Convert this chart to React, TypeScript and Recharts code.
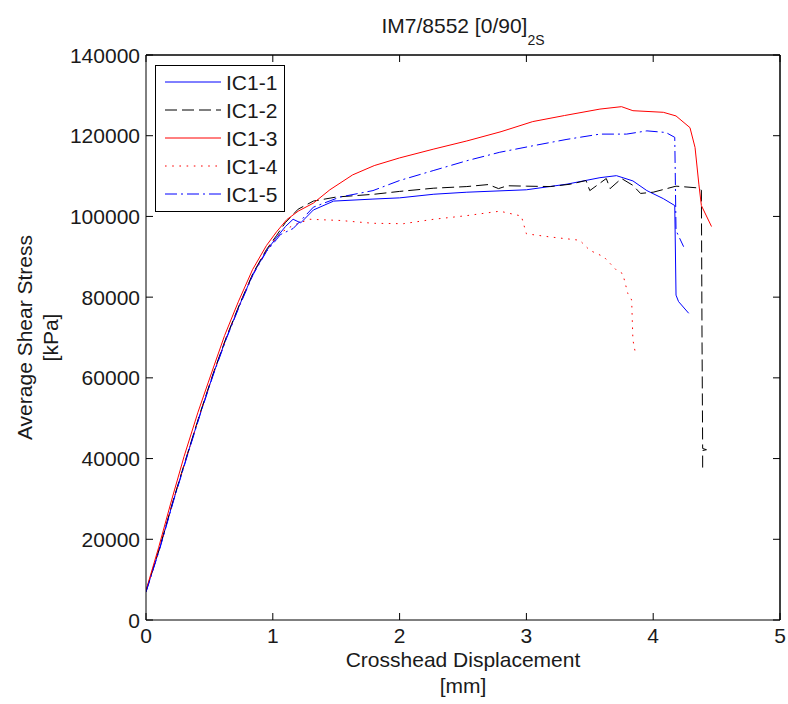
import React from 'react';
import { LineChart, Line, XAxis, YAxis, Legend, Label, ReferenceLine } from 'recharts';

const FONT = '"Liberation Sans", Arial, Helvetica, sans-serif';
const TEXT = '#1a1a1a';

const xTicks = [0, 1, 2, 3, 4, 5];
const yTicks = [0, 20000, 40000, 60000, 80000, 100000, 120000, 140000];

const ic11X = [0, 0.11, 0.215, 0.32, 0.426, 0.53, 0.635, 0.74, 0.845, 0.95, 1.03, 1.1, 1.16, 1.22, 1.32, 1.48, 1.79, 2.0, 2.27, 2.53, 3.0, 3.32, 3.58, 3.71, 3.84, 3.95, 4.08, 4.17, 4.18, 4.2, 4.28];
const ic11Y = [7000, 18000, 29500, 40300, 51000, 60900, 70000, 78200, 85800, 91500, 94800, 97500, 99300, 98400, 101600, 103800, 104300, 104600, 105500, 106000, 106600, 108000, 109600, 110100, 108800, 106400, 104400, 102700, 80500, 78900, 76000];

const ic12X = [0, 0.11, 0.215, 0.32, 0.426, 0.53, 0.635, 0.74, 0.845, 0.95, 1.03, 1.1, 1.2, 1.32, 1.5, 1.8, 2.0, 2.27, 2.53, 2.7, 2.78, 2.85, 3.0, 3.19, 3.35, 3.47, 3.5, 3.63, 3.66, 3.75, 3.84, 3.9, 4.0, 4.18, 4.34, 4.38, 4.385, 4.39, 4.42, 4.39, 4.39];
const ic12Y = [7200, 18200, 29700, 40500, 51200, 61100, 70200, 78400, 86000, 91800, 95300, 98500, 101800, 103800, 104800, 105500, 106200, 107000, 107400, 107900, 106900, 107600, 107500, 107400, 108000, 108900, 106400, 109400, 106900, 109400, 107700, 105700, 106000, 107500, 107100, 106500, 70000, 42500, 42200, 42000, 36800];

const ic13X = [0, 0.1, 0.2, 0.3, 0.41, 0.52, 0.62, 0.73, 0.84, 0.95, 1.03, 1.11, 1.2, 1.32, 1.45, 1.63, 1.8, 2.0, 2.27, 2.53, 2.8, 3.05, 3.3, 3.58, 3.75, 3.84, 4.08, 4.18, 4.29, 4.33, 4.36, 4.38, 4.46];
const ic13Y = [7300, 18000, 29500, 40500, 51500, 61500, 70500, 79000, 86800, 92800, 96200, 99200, 101300, 103300, 106600, 110300, 112600, 114500, 116700, 118700, 121000, 123500, 125000, 126600, 127200, 126200, 125800, 124900, 122000, 117100, 108000, 102700, 97500];

const ic14X = [0, 0.11, 0.215, 0.32, 0.426, 0.53, 0.635, 0.74, 0.845, 0.95, 1.03, 1.08, 1.16, 1.29, 1.53, 1.79, 2.03, 2.27, 2.53, 2.79, 2.96, 3.0, 3.19, 3.42, 3.5, 3.61, 3.71, 3.76, 3.8, 3.83, 3.84, 3.86];
const ic14Y = [7000, 18100, 29600, 40400, 51100, 61000, 70100, 78300, 85900, 91600, 94900, 96300, 97800, 99300, 99000, 98300, 98200, 99300, 100200, 101300, 100100, 95700, 94900, 94100, 91600, 90000, 86700, 85800, 80900, 79300, 69400, 66100];

const ic15X = [0, 0.11, 0.215, 0.32, 0.426, 0.53, 0.635, 0.74, 0.845, 0.95, 1.03, 1.06, 1.16, 1.21, 1.32, 1.53, 1.79, 2.0, 2.27, 2.53, 2.79, 3.05, 3.32, 3.58, 3.79, 3.95, 4.1, 4.17, 4.18, 4.24];
const ic15Y = [6900, 17800, 29300, 40100, 50800, 60700, 69800, 78000, 85600, 91300, 94300, 95500, 97000, 98600, 102300, 104800, 106400, 108900, 111400, 113800, 115900, 117500, 119100, 120400, 120400, 121200, 120800, 119600, 96500, 92500];

const seriesNames = ['IC1-1', 'IC1-2', 'IC1-3', 'IC1-4', 'IC1-5'];
const seriesColors = ['#0000ff', '#000000', '#ff0000', '#ff0000', '#0000ff'];
const seriesDashes = ['', '12 5', '', '1.6 5.6', '12 4 2 4'];

const toPoints = (xs: number[], ys: number[]) => xs.map((x, i) => ({ x, y: ys[i] }));

const seriesData = [
  toPoints(ic11X, ic11Y),
  toPoints(ic12X, ic12Y),
  toPoints(ic13X, ic13Y),
  toPoints(ic14X, ic14Y),
  toPoints(ic15X, ic15Y),
];

const textStyle = { fontFamily: FONT, fontSize: 21, fill: TEXT };
const TICK_LEN = 7;

const BottomTick = (props: any) => {
  const { x, y, payload } = props;
  return (
    <g>
      <line x1={x} x2={x} y1={y} y2={y - TICK_LEN} stroke="#000" strokeWidth={1} />
      <text x={x} y={y + 23} textAnchor="middle" style={textStyle as any}>{String(payload.value)}</text>
    </g>
  );
};

const TopTick = (props: any) => {
  const { x, y } = props;
  return <line x1={x} x2={x} y1={y} y2={y + TICK_LEN} stroke="#000" strokeWidth={1} />;
};

const LeftTick = (props: any) => {
  const { x, y, payload } = props;
  return (
    <g>
      <line x1={x} x2={x + TICK_LEN} y1={y} y2={y} stroke="#000" strokeWidth={1} />
      <text x={x - 6} y={y + 7.5} textAnchor="end" style={textStyle as any}>{String(payload.value)}</text>
    </g>
  );
};

const RightTick = (props: any) => {
  const { x, y } = props;
  return <line x1={x} x2={x - TICK_LEN} y1={y} y2={y} stroke="#000" strokeWidth={1} />;
};

const LegendBox = () => (
  <svg width={130} height={147} style={{ display: 'block' }}>
    <rect x={0.5} y={0.5} width={129} height={146} fill="#fff" stroke="#000" strokeWidth={1} />
    {seriesNames.map((n, i) => {
      const cy = 17 + 28 * i;
      return (
        <g key={n}>
          <line x1={10} x2={66} y1={cy} y2={cy} stroke={seriesColors[i]} strokeWidth={1} strokeDasharray={seriesDashes[i] || undefined} />
          <text x={71} y={cy + 7.5} style={textStyle as any}>{n}</text>
        </g>
      );
    })}
  </svg>
);

const XLabel = (props: any) => {
  const vb = props.viewBox;
  const cx = vb.x + vb.width / 2;
  return (
    <g>
      <text x={cx} y={vb.y + 47} textAnchor="middle" style={textStyle as any}>Crosshead Displacement</text>
      <text x={cx} y={vb.y + 73} textAnchor="middle" style={textStyle as any}>[mm]</text>
    </g>
  );
};

const YLabel = (props: any) => {
  const vb = props.viewBox;
  const cy = vb.y + vb.height / 2;
  const x1 = vb.x - 34;
  const x2 = vb.x - 8;
  return (
    <g>
      <text x={x1} y={cy} transform={`rotate(-90 ${x1} ${cy})`} textAnchor="middle" style={textStyle as any}>Average Shear Stress</text>
      <text x={x2} y={cy} transform={`rotate(-90 ${x2} ${cy})`} textAnchor="middle" style={textStyle as any}>[kPa]</text>
    </g>
  );
};

const TitleLabel = (props: any) => {
  const vb = props.viewBox;
  const cx = vb.x + vb.width / 2;
  return (
    <text x={cx} y={vb.y + vb.height - 22} textAnchor="middle" style={{ fontFamily: FONT, fontSize: 21, fill: TEXT }}>
      <tspan>IM7/8552 [0/90]</tspan>
      <tspan dy={12} style={{ fontSize: 14 }}>2S</tspan>
    </text>
  );
};

export default function App() {
  return (
    <div style={{ position: 'absolute', left: 0, top: 0, width: 788, height: 704, background: '#fff' }}>
      <LineChart width={788} height={704} margin={{ top: 54, right: 7, bottom: 24, left: 66 }}>
        <XAxis
          type="number"
          dataKey="x"
          domain={[0, 5]}
          ticks={xTicks}
          allowDataOverflow
          height={60}
          tickSize={0}
          tickMargin={0}
          axisLine={{ stroke: '#000' }}
          tickLine={false}
          tick={<BottomTick />}
        >
          <Label content={XLabel} />
        </XAxis>
        <XAxis
          xAxisId="top"
          orientation="top"
          type="number"
          dataKey="x"
          domain={[0, 5]}
          ticks={xTicks}
          allowDataOverflow
          height={1}
          tickSize={0}
          tickMargin={0}
          axisLine={{ stroke: '#000' }}
          tickLine={false}
          tick={<TopTick />}
        >
          <Label content={TitleLabel} />
        </XAxis>
        <YAxis
          type="number"
          domain={[0, 140000]}
          ticks={yTicks}
          allowDataOverflow
          width={80}
          tickSize={0}
          tickMargin={0}
          axisLine={{ stroke: '#000' }}
          tickLine={false}
          tick={<LeftTick />}
        >
          <Label content={YLabel} />
        </YAxis>
        <YAxis
          yAxisId="right"
          orientation="right"
          type="number"
          domain={[0, 140000]}
          ticks={yTicks}
          allowDataOverflow
          width={1}
          tickSize={0}
          tickMargin={0}
          axisLine={{ stroke: '#000' }}
          tickLine={false}
          tick={<RightTick />}
        />
        <ReferenceLine y={140000} stroke="#000" strokeWidth={1} ifOverflow="visible" />
        <ReferenceLine x={5} stroke="#000" strokeWidth={1} ifOverflow="visible" />
        <Legend
          layout="vertical"
          align="center"
          verticalAlign="middle"
          wrapperStyle={{ left: 155, top: 65, width: 130, height: 147 }}
          content={() => <LegendBox />}
        />
        {seriesData.map((d, i) => (
          <Line
            key={seriesNames[i]}
            data={d}
            dataKey="y"
            name={seriesNames[i]}
            type="linear"
            stroke={seriesColors[i]}
            strokeWidth={1}
            strokeDasharray={seriesDashes[i] || undefined}
            dot={false}
            activeDot={false}
            isAnimationActive={false}
          />
        ))}
      </LineChart>
    </div>
  );
}
